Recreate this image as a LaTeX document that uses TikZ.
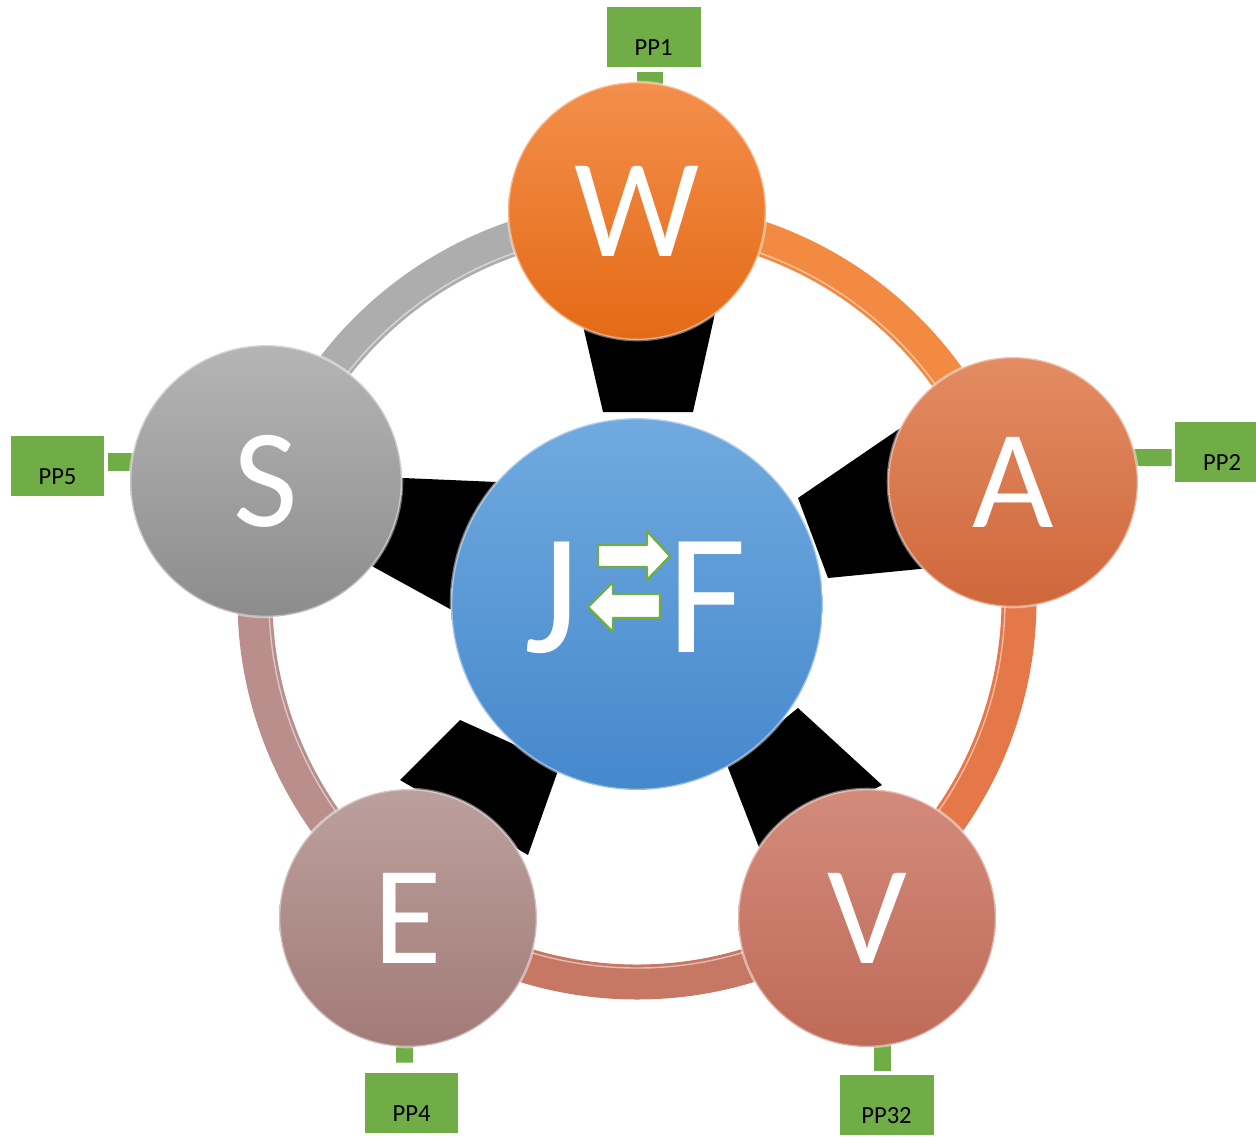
\documentclass[tikz,border=0pt]{standalone}
\usepackage{fontspec}
\setmainfont{Carlito}
\usetikzlibrary{backgrounds}

\definecolor{ppgreen}{HTML}{70AD47}
\definecolor{wtop}{HTML}{F38F4C}  \definecolor{wbot}{HTML}{E46A15}
\definecolor{atop}{HTML}{E38C64}  \definecolor{abot}{HTML}{CF673A}
\definecolor{vtop}{HTML}{D38B7C}  \definecolor{vbot}{HTML}{BF6A57}
\definecolor{etop}{HTML}{BCA09D}  \definecolor{ebot}{HTML}{A27B77}
\definecolor{sgtop}{HTML}{B5B5B5} \definecolor{sgbot}{HTML}{8C8C8C}
\definecolor{jftop}{HTML}{70AADF} \definecolor{jfbot}{HTML}{4588CC}
\definecolor{ringwa}{HTML}{F28A42}
\definecolor{ringav}{HTML}{E47848}
\definecolor{ringve}{HTML}{C67864}
\definecolor{ringes}{HTML}{B98E8B}
\definecolor{ringsw}{HTML}{ADADAD}

\begin{document}
\begin{tikzpicture}[x=0.02cm, y=-0.02cm, line join=round,
    bubble/.style={circle, inner sep=0pt, text=white, draw=white, draw opacity=0.45,
      line width=1.5pt, font=\fontsize{80}{80}\selectfont},
    bigletter/.style={anchor=base, inner sep=0pt, text=white, font=\fontsize{98}{98}\selectfont},
    ppbox/.style={rectangle, fill=ppgreen, minimum width=1.88cm, minimum height=1.2cm,
      inner sep=0pt, text height=0.74cm, text depth=0pt, font=\fontsize{14}{14}\selectfont},
    stub/.style={ppgreen, line width=0.34cm},
    ring/.style={line width=0.7cm},
    wedge/.style={fill=black},
    swaparrow/.style={fill=white, draw=ppgreen, line width=1.3pt}]
  \useasboundingbox (0,0) rectangle (1256,1136);
  \clip (0,0) rectangle (1256,1136);

  % ring between the outer circles
  \foreach \a/\b/\c in {-90/-18/ringwa, -18/54/ringav, 54/126/ringve, 126/198/ringes, 198/270/ringsw}
    \draw[ring, \c] (637,600) ++(\a:382) arc[start angle=\a, end angle=\b, radius=382];
  \draw[white, opacity=0.5, line width=0.8pt] (637,600) circle (368);

  % black wedges
  \fill[wedge] (603,412) -- (577,300) -- (718,300) -- (693,412) -- cycle;
  \fill[wedge] (798,498) -- (940,401) -- (940,567) -- (828,578) -- cycle;
  \fill[wedge] (380,477) -- (520,483) -- (470,620) -- (350,554) -- cycle;
  \fill[wedge] (400,780) -- (460,720) -- (560,765) -- (528,855) -- cycle;
  \fill[wedge] (727,765) -- (798,708) -- (882,785) -- (760,850) -- cycle;

  % centre
  \node[bubble, minimum size=7.44cm, top color=jftop, bottom color=jfbot] (jf) at (637,604) {};
  \node[bigletter] (jl) at (552,652) {J};
  \node[bigletter] (fl) at (707,652) {F};
  \draw[swaparrow] (598,545) -- (647,545) -- (647,531) -- (670,556) -- (647,580) -- (647,567) -- (598,567) -- cycle;
  \draw[swaparrow] (660,594) -- (613,594) -- (613,582) -- (588,607) -- (613,632) -- (613,618) -- (660,618) -- cycle;

  % outer circles
  \node[bubble, minimum size=5.16cm, top color=wtop, bottom color=wbot] (W) at (637,211) {W};
  \node[bubble, minimum size=5.0cm, top color=atop, bottom color=abot] (A) at (1013,482) {A};
  \node[bubble, minimum size=5.16cm, top color=vtop, bottom color=vbot] (V) at (867,918) {V};
  \node[bubble, minimum size=5.16cm, top color=etop, bottom color=ebot] (E) at (408,918) {E};
  \node[bubble, minimum size=5.44cm, top color=sgtop, bottom color=sgbot] (S) at (266,481) {S};

  % green tags
  \node[ppbox] (pp1) at (653.5,37) {PP1};
  \node[ppbox] (pp2) at (1222,452) {PP2};
  \node[ppbox] (pp5) at (57.5,465.5) {PP5};
  \node[ppbox] (pp4) at (411.5,1103) {PP4};
  \node[ppbox] (pp32) at (886.5,1105) {PP32};

  \begin{pgfonlayer}{background}
    \draw[stub, line width=0.52cm] ([shift={(-3.5,5)}]pp1.south) -- ([shift={(13,10)}]W.north);
    \draw[stub] ([shift={(-3,5.5)}]pp2.west) -- ([shift={(-10,-24.5)}]A.east);
    \draw[stub, line width=0.36cm] ([shift={(3,-3.5)}]pp5.east) -- ([shift={(10,-19)}]S.west);
    \draw[stub] ([shift={(-7,-10)}]pp4.north) -- ([shift={(-3.5,-10)}]E.south);
    \draw[stub] ([shift={(-4,-4)}]pp32.north) -- ([shift={(15.5,-10)}]V.south);
  \end{pgfonlayer}
\end{tikzpicture}
\end{document}
